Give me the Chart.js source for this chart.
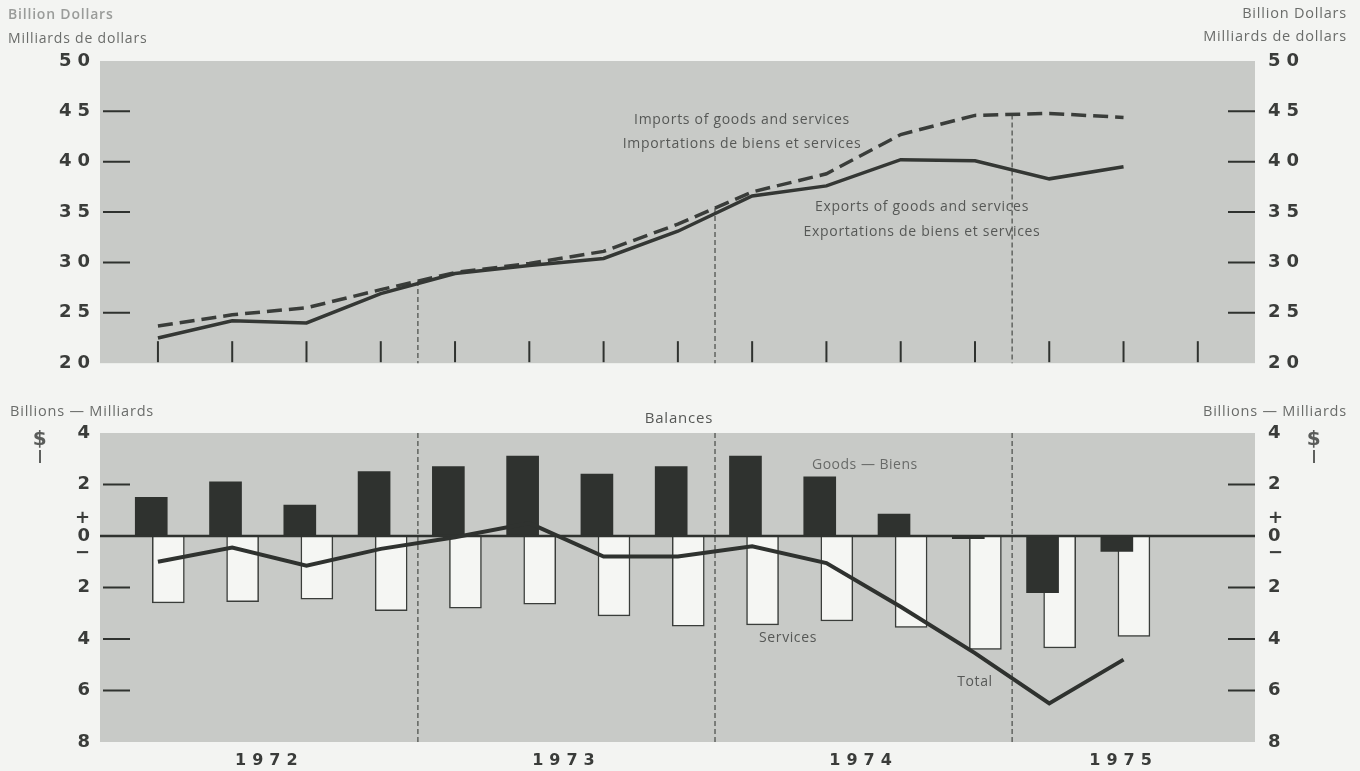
<!DOCTYPE html>
<html>
<head>
<meta charset="utf-8">
<script src="https://cdn.jsdelivr.net/npm/chart.js@4.4.1/dist/chart.umd.min.js"></script>
<style>
  html, body { margin: 0; padding: 0; background: #f3f4f2; }
  #wrap { position: relative; width: 1360px; height: 771px; overflow: hidden; }
  #top { position: absolute; left: 0; top: 0; }
  #bal { position: absolute; left: 0; top: 385px; }
</style>
</head>
<body>
<div id="wrap">
  <canvas id="top" width="1360" height="385"></canvas>
  <canvas id="bal" width="1360" height="386"></canvas>
</div>
<script>
// quarterly values, 1972 Q1 .. 1975 Q2 (billion dollars)
const QUARTERS = ['1972 I', '1972 II', '1972 III', '1972 IV', '1973 I', '1973 II', '1973 III', '1973 IV',
                  '1974 I', '1974 II', '1974 III', '1974 IV', '1975 I', '1975 II'];
const EXPORTS = [22.5, 24.2, 24.0, 26.9, 28.9, 29.7, 30.4, 33.1, 36.6, 37.6, 40.2, 40.1, 38.3, 39.5];
const IMPORTS = [23.7, 24.8, 25.5, 27.3, 29.0, 29.9, 31.1, 33.8, 37.0, 38.8, 42.7, 44.6, 44.8, 44.4];
const GOODS = [1.5, 2.1, 1.2, 2.5, 2.7, 3.1, 2.4, 2.7, 3.1, 2.3, 0.85, -0.1, -2.2, -0.6];
const SERVICES = [-2.6, -2.55, -2.45, -2.9, -2.8, -2.65, -3.1, -3.5, -3.45, -3.3, -3.55, -4.4, -4.35, -3.9];
const TOTAL = [-1.0, -0.45, -1.15, -0.5, -0.05, 0.5, -0.8, -0.8, -0.4, -1.05, -2.75, -4.55, -6.5, -4.8];
const TOP_TICKS = [20, 25, 30, 35, 40, 45, 50];
const BAL_TICKS = [-8, -6, -4, -2, 0, 2, 4];
const YEARS = ['1972', '1973', '1974', '1975'];

const X_MIN = -0.78, X_MAX = 14.77;
const PANEL = '#c8cac7';
const INK = '#2f322f';
const TEXT = '#565856';
const SANS = '"Open Sans", "DejaVu Sans", sans-serif';

const last = QUARTERS.length - 1;
const yearBreaks = YEARS.slice(1).map((_, k) => 4 * k + 3.5);
const yearCentres = YEARS.map((_, k) => Math.min(4 * k + 1.5, last));
const quarterTicks = Array.from({ length: QUARTERS.length + 1 }, (_, i) => i);
const pts = (arr, shift) => arr.map((v, i) => ({ x: i + (shift || 0), y: v }));

// panel fill, inner tick marks, year separators, notes
const frame = {
  id: 'frame',
  beforeDraw(chart, args, o) {
    const { ctx, chartArea: a } = chart;
    ctx.save();
    ctx.fillStyle = PANEL;
    ctx.fillRect(a.left, a.top, a.width, a.height);
    ctx.restore();
    ctx.letterSpacing = '6px';   // spaced-out axis numerals
  },
  beforeDatasetsDraw(chart, args, o) {
    const { ctx, chartArea: a, scales: { x, y } } = chart;
    ctx.save();
    ctx.strokeStyle = INK;
    ctx.lineWidth = 2;
    (o.sideTicks || []).forEach(v => {
      const py = y.getPixelForValue(v);
      ctx.beginPath();
      ctx.moveTo(a.left + 3, py); ctx.lineTo(a.left + 30, py);
      ctx.moveTo(a.right - 27, py); ctx.lineTo(a.right, py);
      ctx.stroke();
    });
    (o.quarterTicks || []).forEach(q => {
      const px = x.getPixelForValue(q);
      ctx.beginPath();
      ctx.moveTo(px, a.bottom - 22); ctx.lineTo(px, a.bottom - 1);
      ctx.stroke();
    });
    ctx.lineWidth = 1.2;
    ctx.strokeStyle = '#474a47';
    ctx.setLineDash([5, 3]);
    yearBreaks.forEach(b => {
      const px = x.getPixelForValue(b);
      let top = a.top;
      if (o.breakFrom != null) {
        const d = chart.data.datasets[o.breakFrom].data;
        const i0 = Math.floor(b), f = b - i0;
        top = y.getPixelForValue(d[i0].y + (d[i0 + 1].y - d[i0].y) * f);
      }
      ctx.beginPath();
      ctx.moveTo(px, top); ctx.lineTo(px, a.bottom);
      ctx.stroke();
    });
    ctx.restore();
  },
  afterDatasetDraw(chart, args, o) {
    if (o.zeroAfter !== args.index) return;
    const { ctx, chartArea: a, scales: { y } } = chart;
    const py = y.getPixelForValue(0);
    ctx.save();
    ctx.strokeStyle = INK;
    ctx.lineWidth = 2.5;
    ctx.beginPath();
    ctx.moveTo(a.left, py); ctx.lineTo(a.right, py);
    ctx.stroke();
    ctx.restore();
  },
  afterDraw(chart, args, o) {
    const ctx = chart.ctx;
    ctx.save();
    ctx.textBaseline = 'middle';
    (o.notes || []).forEach(n => {
      ctx.font = n.font || ('14px ' + SANS);
      ctx.letterSpacing = n.ls || '0.7px';
      ctx.fillStyle = n.color || TEXT;
      ctx.textAlign = n.align || 'center';
      ctx.fillText(n.text, n.x, n.y);
    });
    ctx.strokeStyle = '#5e605e';
    ctx.lineWidth = 2;
    (o.stems || []).forEach(s => {
      ctx.beginPath();
      ctx.moveTo(s.x, s.y1); ctx.lineTo(s.x, s.y2);
      ctx.stroke();
    });
    ctx.restore();
    ctx.letterSpacing = '0px';
  }
};

function yAxis(pos, ticks, min, max, label) {
  return {
    type: 'linear', position: pos, min: min, max: max,
    afterBuildTicks: s => { s.ticks = ticks.map(v => ({ value: v })); },
    afterFit: s => { s.width = pos === 'left' ? 100 : 105; },
    grid: { display: false, drawTicks: false },
    border: { display: false },
    ticks: {
      padding: pos === 'left' ? 4 : 13,
      autoSkip: false,
      color: '#3a3c3a',
      font: { family: 'DejaVu Sans', weight: 'bold', size: 18, lineHeight: 0.98 },
      callback: label
    }
  };
}

const balLabel = v => v === 0 ? ['+', '0', '−'] : String(Math.abs(v));

new Chart(document.getElementById('top'), {
  type: 'line',
  data: {
    datasets: [
      { label: 'Exports of goods and services', data: pts(EXPORTS), borderColor: '#343734',
        borderWidth: 3.5, pointRadius: 0, tension: 0 },
      { label: 'Imports of goods and services', data: pts(IMPORTS), borderColor: '#3a3d3a',
        borderWidth: 3.5, borderDash: [15, 7], pointRadius: 0, tension: 0 }
    ]
  },
  options: {
    responsive: false, animation: false, devicePixelRatio: 1,
    layout: { padding: { top: 61, bottom: 11, left: 0, right: 0 } },
    scales: {
      x: { type: 'linear', min: X_MIN, max: X_MAX, display: false },
      y: yAxis('left', TOP_TICKS, 20, 50, v => String(v)),
      y2: yAxis('right', TOP_TICKS, 20, 50, v => String(v))
    },
    plugins: {
      legend: { display: false },
      tooltip: { enabled: false },
      frame: {
        sideTicks: [25, 30, 35, 40, 45],
        quarterTicks: quarterTicks,
        breakFrom: 1,
        notes: [
          { text: 'Billion Dollars', x: 8, y: 15, align: 'left', font: '600 14px ' + SANS, color: '#9a9c9a', ls: '0.8px' },
          { text: 'Milliards de dollars', x: 8, y: 39, align: 'left', font: '14px ' + SANS, color: '#6a6c6a', ls: '0.8px' },
          { text: 'Billion Dollars', x: 1347, y: 14, align: 'right', font: '14.5px ' + SANS, color: '#6a6c6a', ls: '0.8px' },
          { text: 'Milliards de dollars', x: 1347, y: 37, align: 'right', font: '14.5px ' + SANS, color: '#6a6c6a', ls: '0.8px' },
          { text: 'Imports of goods and services', x: 742, y: 120 },
          { text: 'Importations de biens et services', x: 742, y: 144 },
          { text: 'Exports of goods and services', x: 922, y: 207 },
          { text: 'Exportations de biens et services', x: 922, y: 232 }
        ]
      }
    }
  },
  plugins: [frame]
});

new Chart(document.getElementById('bal'), {
  type: 'bar',
  data: {
    datasets: [
      { type: 'line', label: 'Total', data: pts(TOTAL), borderColor: '#2f322f', borderWidth: 4,
        pointRadius: 0, tension: 0, order: 1 },
      { label: 'Goods — Biens', data: pts(GOODS, -0.09), backgroundColor: INK,
        barThickness: 32, grouped: false, order: 2 },
      { label: 'Services', data: pts(SERVICES, 0.14), backgroundColor: '#f5f6f3',
        borderColor: '#3a3d3a', borderWidth: 1.5, barThickness: 32, grouped: false, order: 3 }
    ]
  },
  options: {
    responsive: false, animation: false, devicePixelRatio: 1,
    layout: { padding: { top: 48, bottom: 0, left: 0, right: 0 } },
    scales: {
      x: {
        type: 'linear', min: X_MIN, max: X_MAX, offset: false, position: 'bottom',
        afterBuildTicks: s => { s.ticks = yearCentres.map(v => ({ value: v })); },
        afterFit: s => { s.height = 29; },
        grid: { display: false, drawTicks: false },
        border: { display: false },
        ticks: {
          padding: 9, autoSkip: false, maxRotation: 0, color: '#3a3c3a',
          font: { family: 'DejaVu Sans', weight: 'bold', size: 16 },
          callback: (v, i) => YEARS[i]
        }
      },
      y: yAxis('left', BAL_TICKS, -8, 4, balLabel),
      y2: yAxis('right', BAL_TICKS, -8, 4, balLabel)
    },
    plugins: {
      legend: { display: false },
      tooltip: { enabled: false },
      frame: {
        sideTicks: [2, -2, -4, -6],
        zeroAfter: 1,
        notes: [
          { text: 'Billions — Milliards', x: 10, y: 27, align: 'left', font: '14.5px ' + SANS, color: '#6a6c6a', ls: '0.8px' },
          { text: 'Billions — Milliards', x: 1347, y: 27, align: 'right', font: '14.5px ' + SANS, color: '#6a6c6a', ls: '0.8px' },
          { text: '$', x: 40, y: 55, font: 'bold 20px "DejaVu Sans"', color: '#5a5c5a' },
          { text: '$', x: 1314, y: 55, font: 'bold 20px "DejaVu Sans"', color: '#5a5c5a' },
          { text: 'Balances', x: 679, y: 34, font: '15px ' + SANS, ls: '0.8px' },
          { text: 'Goods — Biens', x: 812, y: 80, align: 'left', font: '14px ' + SANS, color: '#686a68', ls: '0.5px' },
          { text: 'Services', x: 788, y: 253, font: '14px ' + SANS, ls: '0.6px' },
          { text: 'Total', x: 975, y: 297, font: '14px ' + SANS, ls: '0.6px' }
        ],
        stems: [{ x: 40, y1: 65, y2: 78 }, { x: 1314, y1: 65, y2: 78 }]
      }
    }
  },
  plugins: [frame]
});
</script>
</body>
</html>
